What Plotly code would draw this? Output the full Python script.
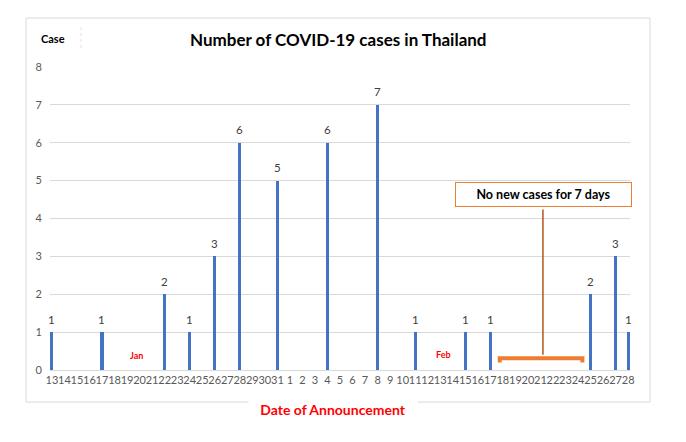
import plotly.graph_objects as go

# ---------- data ----------
jan_days = ['13', '14', '15', '16', '17', '18', '19', '20', '21', '22',
            '23', '24', '25', '26', '27', '28', '29', '30', '31']
jan_cases = [1, 0, 0, 0, 1, 0, 0, 0, 0, 2,
             0, 1, 0, 3, 0, 6, 0, 0, 5]
feb_days = ['1', '2', '3', '4', '5', '6', '7', '8', '9', '10',
            '11', '12', '13', '14', '15', '16', '17', '18', '19', '20',
            '21', '22', '23', '24', '25', '26', '27', '28']
feb_cases = [0, 0, 0, 6, 0, 0, 0, 7, 0, 0,
             1, 0, 0, 0, 1, 0, 1, 0, 0, 0,
             0, 0, 0, 0, 2, 0, 3, 1]

day_labels = jan_days + feb_days
cases = jan_cases + feb_cases
xpos = list(range(len(day_labels)))

# ---------- geometry ----------
# the page body has an 8px margin, so the figure is drawn 8px in from the
# window corner; positions below are in window pixels
OFF = 8
WIN_W, WIN_H = 686, 442
FW, FH = WIN_W - OFF, WIN_H - OFF
SX0, SX1, SY0, SY1 = 50, 630, 67, 370     # plot area in window pixels


def px(x):
    return (x - SX0) / (SX1 - SX0)


def py(y):
    return (SY1 - y) / (SY1 - SY0)


BLUE = '#4472C4'
ORANGE = '#ED7D31'
FONT = 'Lato'

fig = go.Figure()
fig.add_trace(go.Bar(
    x=xpos, y=cases, width=0.25,
    marker=dict(color=BLUE, line=dict(width=0)),
    showlegend=False, hoverinfo='x+y',
))

fig.update_xaxes(
    range=[-0.15, len(day_labels) - 1 + 0.15],
    tickvals=xpos, ticktext=day_labels, tickangle=0,
    tickfont=dict(family=FONT, size=11, color='#595959'),
    showgrid=False, showline=True, linecolor='#D9D9D9', linewidth=1,
    zeroline=False, ticks='',
)
fig.update_yaxes(
    range=[0, 8], dtick=1,
    tickfont=dict(family=FONT, size=11, color='#595959'),
    showgrid=True, gridcolor='#D9D9D9', gridwidth=1,
    zeroline=False, showline=False, ticks='', ticklabelstandoff=7,
)

shapes = [
    # chart frame
    dict(type='rect', xref='paper', yref='paper',
         x0=px(26), x1=px(650), y0=py(402), y1=py(18),
         line=dict(color='#D9D9D9', width=1), layer='below'),
    # faint dotted line next to "Case"
    dict(type='line', xref='paper', yref='paper',
         x0=px(81), x1=px(81), y0=py(27), y1=py(48),
         line=dict(color='#E0E0E0', width=1, dash='dot')),
    # bracket under the no-case period
    dict(type='path', xref='x', yref='y',
         path='M 35.75 0.2 L 35.75 0.31 L 42.35 0.31 L 42.35 0.2',
         line=dict(color=ORANGE, width=4)),
    # connector from box to bracket
    dict(type='line', xref='x', yref='y',
         x0=39.2, x1=39.2, y0=0.4, y1=4.24,
         line=dict(color='#B5541C', width=1.5)),
]


def label(text, x, y, size, color='black', **kw):
    return dict(text=text, xref='paper', yref='paper', x=px(x), y=py(y),
                xanchor='center', yanchor='middle', showarrow=False,
                font=dict(family=FONT, size=size, color=color), **kw)


annotations = [
    label('<b>Number of COVID-19 cases in Thailand</b>', 338, 40, 17),
    label('<b>Case</b>', 53, 39, 11),
    label('<b>Date of Announcement</b>', 333, 409, 14, '#FF0000',
          bgcolor='white', width=166),
    label('<b>Jan</b>', 136, 355, 9, '#FF0000'),
    label('<b>Feb</b>', 443, 354, 9, '#FF0000'),
    label('<b>No new cases for 7 days</b>', 543.5, 194.5, 12.5,
          width=175, height=23, bgcolor='white', bordercolor=ORANGE,
          borderwidth=1, borderpad=0),
]

# value labels above the bars
for x, v in zip(xpos, cases):
    if v > 0:
        annotations.append(dict(
            x=x, y=v, xref='x', yref='y', text=str(v), showarrow=False,
            yshift=13, xanchor='center', yanchor='middle',
            font=dict(family=FONT, size=11.5, color='#404040')))

fig.update_layout(
    width=FW, height=FH,
    margin=dict(l=SX0 - OFF, r=WIN_W - SX1, t=SY0 - OFF, b=WIN_H - SY1),
    paper_bgcolor='white', plot_bgcolor='white',
    shapes=shapes, annotations=annotations,
    bargap=0, showlegend=False,
)

fig.write_html('out.html')
